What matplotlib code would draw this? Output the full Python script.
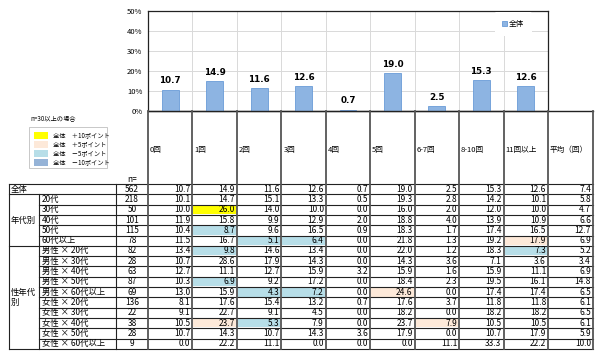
import numpy as np
import matplotlib.pyplot as plt
from matplotlib.patches import Rectangle

plt.rcParams['font.family'] = ['Noto Sans CJK JP', 'DejaVu Sans']

# data
categories = ['0回', '1回', '2回', '3回', '4回', '5回', '6-7回', '8-10回', '11回以上']
col_labels = categories + ['平均（回）']
overall = [10.7, 14.9, 11.6, 12.6, 0.7, 19.0, 2.5, 15.3, 12.6]

row_labels = ['全体', '20代', '30代', '40代', '50代', '60代以上',
              '男性 × 20代', '男性 × 30代', '男性 × 40代', '男性 × 50代', '男性 × 60代以上',
              '女性 × 20代', '女性 × 30代', '女性 × 40代', '女性 × 50代', '女性 × 60代以上']
n_values = [562, 218, 50, 101, 115, 78, 82, 28, 63, 87, 69, 136, 22, 38, 28, 9]
table_values = [
    [10.7, 14.9, 11.6, 12.6, 0.7, 19.0, 2.5, 15.3, 12.6, 7.4],
    [10.1, 14.7, 15.1, 13.3, 0.5, 19.3, 2.8, 14.2, 10.1, 5.8],
    [10.0, 26.0, 14.0, 10.0, 0.0, 16.0, 2.0, 12.0, 10.0, 4.7],
    [11.9, 15.8, 9.9, 12.9, 2.0, 18.8, 4.0, 13.9, 10.9, 6.6],
    [10.4, 8.7, 9.6, 16.5, 0.9, 18.3, 1.7, 17.4, 16.5, 12.7],
    [11.5, 16.7, 5.1, 6.4, 0.0, 21.8, 1.3, 19.2, 17.9, 6.9],
    [13.4, 9.8, 14.6, 13.4, 0.0, 22.0, 1.2, 18.3, 7.3, 5.2],
    [10.7, 28.6, 17.9, 14.3, 0.0, 14.3, 3.6, 7.1, 3.6, 3.4],
    [12.7, 11.1, 12.7, 15.9, 3.2, 15.9, 1.6, 15.9, 11.1, 6.9],
    [10.3, 6.9, 9.2, 17.2, 0.0, 18.4, 2.3, 19.5, 16.1, 14.8],
    [13.0, 15.9, 4.3, 7.2, 0.0, 24.6, 0.0, 17.4, 17.4, 6.5],
    [8.1, 17.6, 15.4, 13.2, 0.7, 17.6, 3.7, 11.8, 11.8, 6.1],
    [9.1, 22.7, 9.1, 4.5, 0.0, 18.2, 0.0, 18.2, 18.2, 6.5],
    [10.5, 23.7, 5.3, 7.9, 0.0, 23.7, 7.9, 10.5, 10.5, 6.1],
    [10.7, 14.3, 10.7, 14.3, 3.6, 17.9, 0.0, 10.7, 17.9, 5.9],
    [0.0, 22.2, 11.1, 0.0, 0.0, 0.0, 11.1, 33.3, 22.2, 10.0],
]
legend_labels = ['全体　＋10ポイント', '全体　＋5ポイント', '全体　－5ポイント', '全体　－10ポイント']
legend_colors = ['#FFFF00', '#FDE9D9', '#B7DEE8', '#95B3D7']

W, H = 600, 358
fig = plt.figure(figsize=(6, 3.58), dpi=100)

# ---- bar chart ----
x0, x1, ytop, ybot = 148, 548, 11, 111
ax = fig.add_axes([x0 / W, 1 - ybot / H, (x1 - x0) / W, (ybot - ytop) / H])
xs = np.arange(len(categories))
bars = ax.bar(xs, overall, width=0.38, color='#8DB4E2', edgecolor='#6A9BD8', linewidth=0.6,
              label='全体', zorder=3)
for b, v in zip(bars, overall):
    ax.annotate(f'{v:.1f}', (b.get_x() + b.get_width() / 2, v), xytext=(0, 3),
                textcoords='offset points', ha='center', va='bottom',
                fontsize=6.3, fontweight='bold', family='DejaVu Sans')
ax.set_xlim(-0.5, len(categories) - 0.5)
ax.set_ylim(0, 50)
ax.set_yticks(range(0, 51, 10))
ax.set_yticklabels([f'{t}%' for t in range(0, 51, 10)], fontsize=5.5)
ax.set_xticks(np.arange(len(categories) + 1) - 0.5, minor=True)
ax.set_xticks([])
ax.tick_params(axis='y', length=0, pad=4)
ax.tick_params(axis='x', which='minor', length=0)
ax.grid(axis='y', color='#D9D9D9', lw=0.7, zorder=0)
ax.grid(axis='x', which='minor', color='#D9D9D9', lw=0.7, zorder=0)
for s in ax.spines.values():
    s.set_color('#222222')
    s.set_linewidth(0.9)
leg = ax.legend(loc='upper right', bbox_to_anchor=(0.985, 0.985), fontsize=5.5, frameon=True,
                handlelength=0.6, handleheight=0.6, handletextpad=0.3, borderpad=1.0,
                borderaxespad=0.0)
leg.get_frame().set_edgecolor('none')
leg.get_frame().set_facecolor('white')
leg.get_frame().set_alpha(1)
leg._legend_box.align = 'left'
leg.set_bbox_to_anchor((0.96, 0.985))

# ---- table overlay (pixel coords) ----
tx = fig.add_axes([0, 0, 1, 1], zorder=5)
tx.set_xlim(0, W)
tx.set_ylim(H, 0)
tx.axis('off')
tx.patch.set_alpha(0)

cw = (x1 - x0) / len(categories)
col_edges = [x0 + i * cw for i in range(len(categories) + 1)] + [593]
row_top, rh = 184, 10.3
nrows = len(row_labels)
row_edges = [row_top + i * rh for i in range(nrows + 1)]
xa, xb, xn = 9, 39, 116
line_c = '#222222'
vline_c = '#555555'

# highlighted cells (n>=30, difference to 全体)
base = table_values[0]
for r in range(1, nrows):
    if n_values[r] < 30:
        continue
    for c in range(len(categories)):
        d = table_values[r][c] - base[c]
        color = None
        if d >= 10:
            color = legend_colors[0]
        elif d >= 5:
            color = legend_colors[1]
        elif d <= -10:
            color = legend_colors[3]
        elif d <= -5:
            color = legend_colors[2]
        if color:
            tx.add_patch(Rectangle((col_edges[c] + 1, row_edges[r] + 0.8), cw - 2, rh - 1.6,
                                   facecolor=color, edgecolor='none'))

# horizontal lines
tx.plot([x0, col_edges[-1]], [ybot, ybot], color=line_c, lw=1)
for i, y in enumerate(row_edges):
    if i in (0, 1, 6, nrows):
        tx.plot([xa, col_edges[-1]], [y, y], color=line_c, lw=0.8)
    else:
        tx.plot([xb, col_edges[-1]], [y, y], color=line_c, lw=0.8)
# vertical lines
tx.plot([xa, xa], [row_edges[0], row_edges[-1]], color=line_c, lw=0.8)
tx.plot([xb, xb], [row_edges[1], row_edges[-1]], color=line_c, lw=0.8)
tx.plot([xn, xn], [row_edges[0], row_edges[-1]], color=line_c, lw=0.8)
for x in col_edges:
    tx.plot([x, x], [ybot, row_edges[-1]], color=vline_c, lw=1.3)

# header labels
for c, lab in enumerate(col_labels):
    tx.text(col_edges[c] + 2, 150, lab, fontsize=5.5, ha='left', va='center')
tx.text(132, 179, 'n=', fontsize=6, ha='center', va='center')

# rows
for r in range(nrows):
    yc = row_edges[r] + rh / 2
    if r == 0:
        tx.text(xa + 2, yc, row_labels[r], fontsize=6, ha='left', va='center')
    else:
        tx.text(xb + 3, yc, row_labels[r], fontsize=6, ha='left', va='center')
    tx.text((xn + x0) / 2, yc, str(n_values[r]), fontsize=6, ha='center', va='center')
    for c, v in enumerate(table_values[r]):
        tx.text(col_edges[c + 1] - 2, yc, f'{v:.1f}', fontsize=6, ha='right', va='center')
tx.text(xa + 2, row_edges[3] + rh / 2, '年代別', fontsize=6, ha='left', va='center')
tx.text(xa + 2, row_edges[10] + rh / 2, '性年代', fontsize=6, ha='left', va='center')
tx.text(xa + 2, row_edges[11] + rh / 2, '別', fontsize=6, ha='left', va='center')

# highlight legend
tx.text(30, 118, 'n=30以上の場合', fontsize=4.5, ha='left', va='center')
tx.add_patch(Rectangle((29, 127), 78, 41, facecolor='white', edgecolor='#BFBFBF', lw=0.6))
for i, (lab, col) in enumerate(zip(legend_labels, legend_colors)):
    y = 135 + i * 9
    tx.add_patch(Rectangle((34, y - 3.5), 14, 7, facecolor=col, edgecolor='none'))
    tx.text(53, y, lab, fontsize=4.5, ha='left', va='center')

fig.savefig('out.png', dpi=100)
